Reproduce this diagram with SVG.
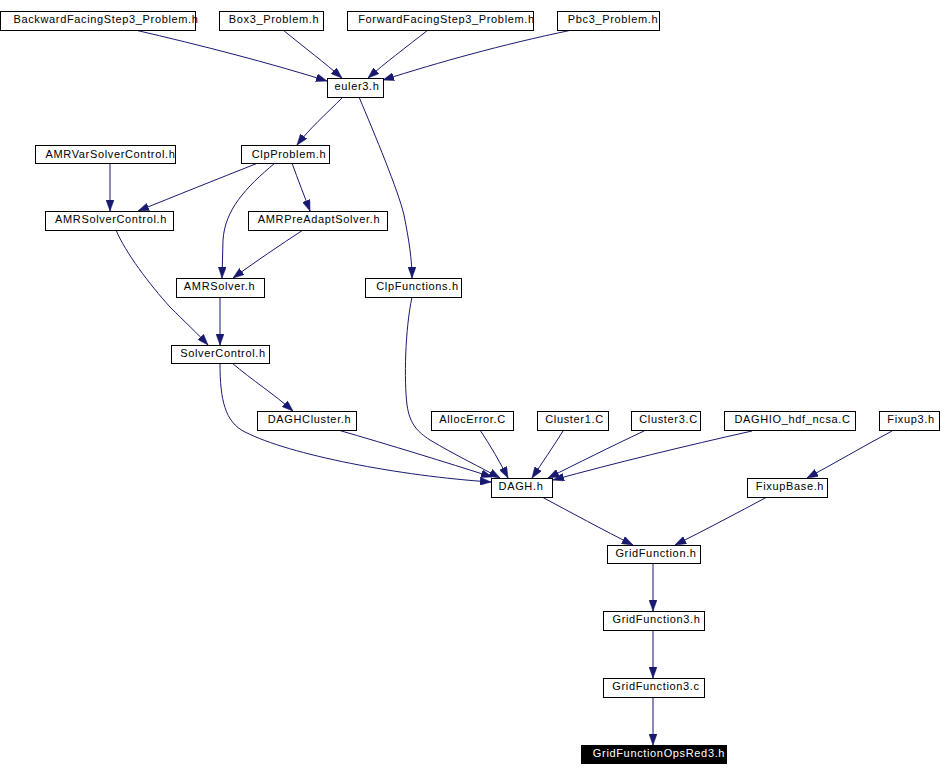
<svg xmlns="http://www.w3.org/2000/svg" width="942" height="776" viewBox="0 0 942 776">
<defs>
<style>
.n rect{fill:#fff;stroke:#000;stroke-width:1}
.n text{font-family:"Liberation Sans",Arial,sans-serif;font-size:11px;letter-spacing:0.65px;text-anchor:middle;fill:#000}
#n_ops rect{fill:#000}
#n_ops text{fill:#fff}
.e path{fill:none;stroke:#191970;stroke-width:1;marker-end:url(#ah)}
</style>
<marker id="ah" markerUnits="userSpaceOnUse" markerWidth="11" markerHeight="8" refX="11" refY="4" orient="auto" viewBox="0 0 11 8">
<path d="M0,0 L11,4 L0,8 z" fill="#191970" stroke="#191970" stroke-width="0.5"/>
</marker>
</defs>
<rect width="942" height="776" fill="#fff"/>
<g class="e" id="edges">
<path d="M135,30 C200,45 270,63 327,81"/>
<path d="M283,30 C305,48 325,63 342,78"/>
<path d="M428,30 C405,48 385,63 368,78"/>
<path d="M572,30 C500,45 440,62 383,80"/>
<path d="M343,97 C325,115 310,128 297,145"/>
<path d="M359,97 C375,135 398,190 404,215 C409,240 412,260 412,278"/>
<path d="M110,163 L110,211"/>
<path d="M258,163 C215,180 175,196 138,211"/>
<path d="M275,163 C245,188 225,210 223,240 L222,278"/>
<path d="M292,163 C298,180 304,195 310,211"/>
<path d="M303,230 C280,245 255,262 233,278"/>
<path d="M116,230 C125,252 150,285 170,307 C185,322 198,334 208,345"/>
<path d="M220,297 L220,345"/>
<path d="M412,297 C405,330 404,380 407,405 C410,425 418,432 430,440 C455,455 482,468 500,478"/>
<path d="M232,363 C252,380 275,395 293,411"/>
<path d="M220,363 C220,400 225,422 245,432 C290,455 400,476 491,482"/>
<path d="M338,430 C390,445 445,462 492,477"/>
<path d="M480,430 C490,445 500,462 508,478"/>
<path d="M563,431 C553,447 542,463 532,478"/>
<path d="M644,431 C610,447 578,463 548,478"/>
<path d="M752,431 C685,446 615,463 553,480"/>
<path d="M892,431 C862,447 835,463 807,478"/>
<path d="M542,497 C572,513 603,530 633,545"/>
<path d="M767,497 C737,513 705,530 675,545"/>
<path d="M653,563 L653,611"/>
<path d="M653,630 L653,678"/>
<path d="M653,697 L653,745"/>
</g>
<g class="n" id="n_bfs"><rect x="0.5" y="11.5" width="195" height="19"/><text x="106" y="23">BackwardFacingStep3_Problem.h</text></g>
<g class="n" id="n_box3"><rect x="219.5" y="11.5" width="104" height="19"/><text x="274" y="23">Box3_Problem.h</text></g>
<g class="n" id="n_ffs"><rect x="347.5" y="11.5" width="186" height="19"/><text x="446.5" y="23">ForwardFacingStep3_Problem.h</text></g>
<g class="n" id="n_pbc3"><rect x="557.5" y="11.5" width="102" height="19"/><text x="613" y="23">Pbc3_Problem.h</text></g>
<g class="n" id="n_euler3"><rect x="327.5" y="78.5" width="56" height="19"/><text x="357" y="90">euler3.h</text></g>
<g class="n" id="n_amrvar"><rect x="35.5" y="145.5" width="140" height="18"/><text x="110.5" y="158">AMRVarSolverControl.h</text></g>
<g class="n" id="n_clpproblem"><rect x="241.5" y="145.5" width="88" height="18"/><text x="289" y="158">ClpProblem.h</text></g>
<g class="n" id="n_amrsc"><rect x="45.5" y="211.5" width="128" height="19"/><text x="111" y="223">AMRSolverControl.h</text></g>
<g class="n" id="n_amrpre"><rect x="248.5" y="211.5" width="139" height="19"/><text x="319" y="223">AMRPreAdaptSolver.h</text></g>
<g class="n" id="n_amrsolver"><rect x="176.5" y="278.5" width="88" height="19"/><text x="219.5" y="290">AMRSolver.h</text></g>
<g class="n" id="n_clpfunc"><rect x="365.5" y="278.5" width="96" height="19"/><text x="417.5" y="290">ClpFunctions.h</text></g>
<g class="n" id="n_solverctl"><rect x="171.5" y="345.5" width="98" height="18"/><text x="223" y="357">SolverControl.h</text></g>
<g class="n" id="n_daghcluster"><rect x="257.5" y="411.5" width="99" height="19"/><text x="309.5" y="423">DAGHCluster.h</text></g>
<g class="n" id="n_allocerror"><rect x="431.5" y="411.5" width="82" height="19"/><text x="472.5" y="423">AllocError.C</text></g>
<g class="n" id="n_cluster1"><rect x="537.5" y="411.5" width="71" height="19"/><text x="574.5" y="423">Cluster1.C</text></g>
<g class="n" id="n_cluster3"><rect x="631.5" y="411.5" width="69" height="19"/><text x="668.5" y="423">Cluster3.C</text></g>
<g class="n" id="n_daghio"><rect x="724.5" y="411.5" width="131" height="19"/><text x="792.5" y="423">DAGHIO_hdf_ncsa.C</text></g>
<g class="n" id="n_fixup3"><rect x="879.5" y="411.5" width="60" height="19"/><text x="911" y="423">Fixup3.h</text></g>
<g class="n" id="n_dagh"><rect x="491.5" y="478.5" width="61" height="19"/><text x="521" y="490">DAGH.h</text></g>
<g class="n" id="n_fixupbase"><rect x="747.5" y="478.5" width="80" height="19"/><text x="790" y="490">FixupBase.h</text></g>
<g class="n" id="n_gridfunc"><rect x="607.5" y="545.5" width="93" height="18"/><text x="656" y="557">GridFunction.h</text></g>
<g class="n" id="n_gridfunc3h"><rect x="603.5" y="611.5" width="101" height="19"/><text x="656.5" y="623">GridFunction3.h</text></g>
<g class="n" id="n_gridfunc3c"><rect x="603.5" y="678.5" width="101" height="19"/><text x="656" y="690">GridFunction3.c</text></g>
<g class="n" id="n_ops"><rect x="581.5" y="745.5" width="145" height="18"/><text x="659" y="757">GridFunctionOpsRed3.h</text></g>
</svg>
